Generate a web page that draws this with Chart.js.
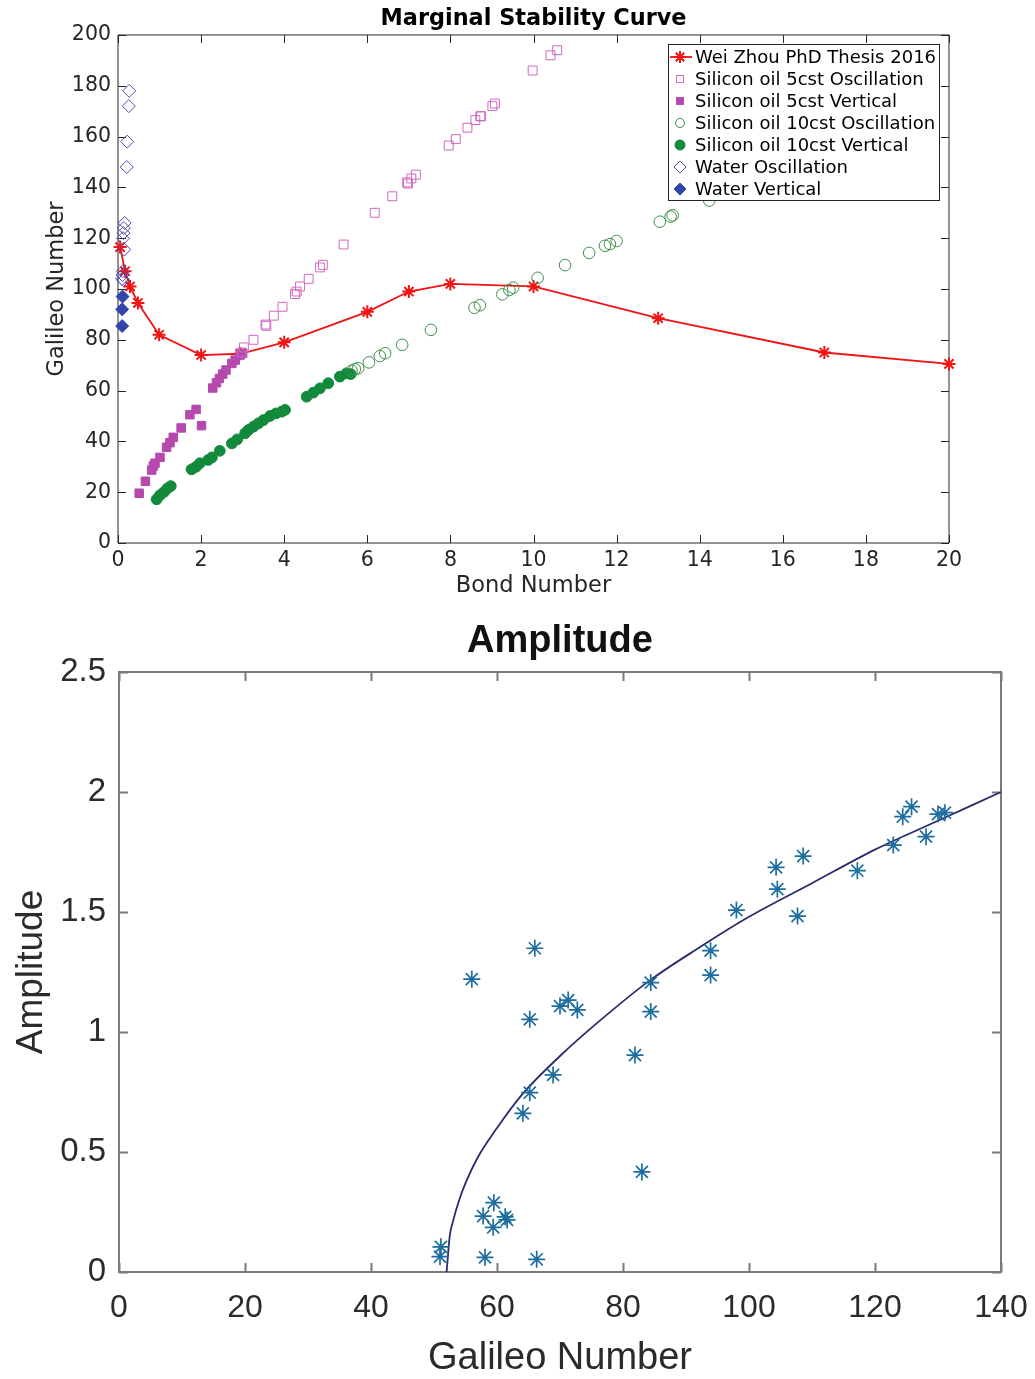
<!DOCTYPE html>
<html>
<head>
<meta charset="utf-8">
<script src="https://cdn.jsdelivr.net/npm/chart.js@4.4.1/dist/chart.umd.min.js"></script>
<style>
  body { margin: 0; background: #fff; }
  .wrap { position: absolute; left: 0; width: 1035px; }
</style>
</head>
<body>
<div class="wrap" style="top:0;height:600px"><canvas id="stability" width="1035" height="600"></canvas></div>
<div class="wrap" style="top:600px;height:779px"><canvas id="amplitude" width="1035" height="779"></canvas></div>
<script>
// --- Marginal stability curve (Bond number vs Galileo number) ---
const zhouBond = [0.05, 0.17, 0.29, 0.48, 0.99, 2, 2.94, 4, 6, 7, 8, 10, 13, 17, 20];
const zhouGa   = [116.5, 107, 101, 94.5, 82, 74, 74.5, 79, 91, 99, 102, 101, 88.5, 75, 70.5];

const si5OscBond = [2.98, 3.03, 3.26, 3.55, 3.57, 3.75, 3.96, 4.26, 4.3, 4.38, 4.59, 4.86, 4.93, 5.43, 6.18, 6.6, 6.96, 6.98, 7.06, 7.17, 7.96, 8.13, 8.41, 8.6, 8.72, 8.74, 9.01, 9.07, 9.98, 10.41, 10.57];
const si5OscGa   = [75, 77, 80, 86, 85.5, 89.5, 93, 98, 99, 101, 104, 108.5, 109.5, 117.5, 130, 136.5, 142, 141.5, 143.5, 145, 156.5, 159, 163.5, 166.5, 168, 168, 172, 173, 186, 192, 194];

const si5VertBond = [0.51, 0.66, 0.81, 0.85, 0.89, 1.01, 1.17, 1.25, 1.33, 1.52, 1.73, 1.88, 2.01, 2.28, 2.37, 2.44, 2.52, 2.6, 2.74, 2.82, 2.94, 3.0];
const si5VertGa   = [19.6, 24.3, 28.7, 30.3, 31.4, 33.7, 37.7, 39.5, 41.6, 45.3, 50.5, 52.6, 46.2, 61, 63.1, 64.8, 66.5, 68.1, 70.7, 72, 74, 74.7];

const si10OscBond = [5.62, 5.7, 5.78, 6.04, 6.3, 6.43, 6.84, 7.53, 8.58, 8.71, 9.25, 9.42, 9.51, 10.1, 10.76, 11.34, 11.72, 11.84, 12.0, 13.04, 13.3, 13.35, 14.23];
const si10OscGa   = [67.8, 68.4, 68.8, 71.1, 73.6, 74.7, 78, 83.9, 92.6, 93.6, 97.9, 99.6, 100.5, 104.4, 109.4, 114.2, 117, 117.7, 118.9, 126.5, 128.5, 129, 134.8];

const si10VertBond = [0.93, 1.01, 1.11, 1.19, 1.27, 1.77, 1.88, 1.97, 2.17, 2.26, 2.45, 2.74, 2.87, 3.06, 3.14, 3.26, 3.38, 3.5, 3.66, 3.8, 3.94, 4.02, 4.54, 4.7, 4.86, 5.06, 5.34, 5.5, 5.6];
const si10VertGa   = [17.2, 18.8, 20.1, 21.5, 22.4, 29, 30, 31.4, 32.7, 33.7, 36.3, 39.2, 40.8, 43.2, 44.5, 45.8, 47.1, 48.4, 50, 51, 51.7, 52.4, 57.6, 59.2, 60.9, 62.9, 65.5, 66.8, 66.5];

const waterOscBond = [0.27, 0.26, 0.22, 0.21, 0.16, 0.14, 0.13, 0.12, 0.15, 0.12, 0.11, 0.1, 0.13];
const waterOscGa   = [178, 172, 158, 148, 126, 124, 122, 120, 115.5, 107, 105.5, 104, 103.5];

const waterVertBond = [0.11, 0.1, 0.1];
const waterVertGa   = [97, 92, 85.4];

const bondTicks = [0, 2, 4, 6, 8, 10, 12, 14, 16, 18, 20];
const gaTicks   = [0, 20, 40, 60, 80, 100, 120, 140, 160, 180, 200];

// --- Amplitude vs Galileo number ---
const ampGa  = [51.1, 50.95, 58.1, 66.3, 59.5, 57.8, 59.4, 61.3, 61.6, 64.1, 65.2, 68.9, 81.9, 83.0, 65.2, 70.0, 71.3, 72.75, 66.0, 56.0, 84.4, 84.4, 93.9, 93.9, 98.0, 104.3, 104.5, 107.7, 108.6, 117.2, 122.9, 124.4, 125.8, 128.1, 130.0, 131.1];
const ampVal = [0.105, 0.064, 0.061, 0.053, 0.289, 0.233, 0.186, 0.23, 0.217, 0.661, 0.747, 0.821, 0.904, 0.417, 1.053, 1.108, 1.133, 1.092, 1.349, 1.22, 1.206, 1.085, 1.339, 1.237, 1.508, 1.686, 1.595, 1.483, 1.733, 1.672, 1.779, 1.897, 1.939, 1.814, 1.908, 1.914];

const fitGa  = [52, 52.5, 53, 54, 55, 57, 60, 64, 70, 76, 84, 92, 100, 110, 120, 130, 140];
const fitAmp = [0, 0.15, 0.21, 0.30, 0.37, 0.48, 0.60, 0.74, 0.90, 1.04, 1.21, 1.35, 1.48, 1.62, 1.76, 1.88, 2.0];

const ampGaTicks  = [0, 20, 40, 60, 80, 100, 120, 140];
const ampValTicks = [0, 0.5, 1, 1.5, 2, 2.5];

const toXY = (xs, ys) => xs.map((x, i) => ({ x: x, y: ys[i] }));

// box round the plot with inward ticks on all four sides, like matlab axes
const axesBox = {
  id: 'axesBox',
  beforeDatasetsDraw(chart, args, opts) {
    const { ctx, chartArea: a, scales } = chart;
    ctx.save();
    ctx.strokeStyle = opts.color;
    ctx.lineWidth = opts.width;
    ctx.beginPath();
    ctx.rect(a.left, a.top, a.right - a.left, a.bottom - a.top);
    scales.x.ticks.forEach(t => {
      const px = Math.round(scales.x.getPixelForValue(t.value)) + 0.5;
      ctx.moveTo(px, a.bottom); ctx.lineTo(px, a.bottom - opts.len);
      ctx.moveTo(px, a.top); ctx.lineTo(px, a.top + opts.len);
    });
    scales.y.ticks.forEach(t => {
      const py = Math.round(scales.y.getPixelForValue(t.value)) + 0.5;
      ctx.moveTo(a.left, py); ctx.lineTo(a.left + opts.len, py);
      ctx.moveTo(a.right, py); ctx.lineTo(a.right - opts.len, py);
    });
    ctx.stroke();
    ctx.restore();
  }
};

// legend in a box at the top right of the plot
const boxLegend = {
  id: 'boxLegend',
  afterDraw(chart, args, opts) {
    if (!opts.display) return;
    const { ctx } = chart;
    const sets = chart.data.datasets;
    ctx.save();
    ctx.fillStyle = '#fff';
    ctx.strokeStyle = '#262626';
    ctx.lineWidth = 1;
    ctx.fillRect(opts.left, opts.top, opts.width, opts.height);
    ctx.strokeRect(opts.left + 0.5, opts.top + 0.5, opts.width, opts.height);
    ctx.font = opts.font;
    ctx.textBaseline = 'middle';
    sets.forEach((ds, i) => {
      const y = opts.top + opts.first + i * opts.step;
      const mx = opts.left + 12;
      if (ds.showLine) {
        ctx.strokeStyle = ds.borderColor;
        ctx.lineWidth = ds.borderWidth;
        ctx.beginPath();
        ctx.moveTo(opts.left + 2, y); ctx.lineTo(opts.left + 24, y);
        ctx.stroke();
      }
      ctx.fillStyle = ds.pointBackgroundColor;
      ctx.strokeStyle = ds.pointBorderColor;
      ctx.lineWidth = ds.pointBorderWidth;
      Chart.helpers.drawPoint(ctx, {
        pointStyle: ds.pointStyle,
        radius: ds.legendRadius,
        rotation: 0,
        borderWidth: ds.pointBorderWidth
      }, mx, y);
      ctx.fillStyle = '#000';
      ctx.fillText(ds.label, opts.left + 27, y + 1);
    });
    ctx.restore();
  }
};

function marker(label, xs, ys, style, stroke, fill, radius, legendRadius, extra) {
  return Object.assign({
    label: label,
    data: toXY(xs, ys),
    pointStyle: style,
    pointRadius: radius,
    pointHoverRadius: radius,
    pointBorderColor: stroke,
    pointBackgroundColor: fill,
    pointBorderWidth: 1,
    legendRadius: legendRadius,
    showLine: false,
    clip: false,
    order: 0
  }, extra || {});
}

const dejavu = 'DejaVu Sans';

new Chart(document.getElementById('stability'), {
  type: 'scatter',
  data: {
    datasets: [
      marker('Wei Zhou PhD Thesis 2016', zhouBond, zhouGa, 'star', '#f01414', '#f01414', 6.5, 6,
        { showLine: true, borderColor: '#f01414', borderWidth: 1.8, pointBorderWidth: 2, tension: 0, order: 5 }),
      marker('Silicon oil 5cst Oscillation', si5OscBond, si5OscGa, 'rect', '#d068c2', 'rgba(0,0,0,0)', 6.3, 5),
      marker('Silicon oil 5cst Vertical', si5VertBond, si5VertGa, 'rect', '#b549ad', '#b549ad', 6, 5),
      marker('Silicon oil 10cst Oscillation', si10OscBond, si10OscGa, 'circle', '#3f8f4a', 'rgba(0,0,0,0)', 5.8, 4.5),
      marker('Silicon oil 10cst Vertical', si10VertBond, si10VertGa, 'circle', '#128a3b', '#128a3b', 5.4, 5),
      marker('Water Oscillation', waterOscBond, waterOscGa, 'rectRot', '#4d4db5', 'rgba(0,0,0,0)', 6.5, 6),
      marker('Water Vertical', waterVertBond, waterVertGa, 'rectRot', '#3445aa', '#3445aa', 6.5, 6)
    ]
  },
  options: {
    responsive: false,
    animation: false,
    layout: { padding: { left: 0, right: 86, top: 0, bottom: 0 } },
    scales: {
      x: {
        type: 'linear', min: 0, max: 20,
        afterBuildTicks: s => { s.ticks = bondTicks.map(v => ({ value: v })); },
        afterFit: s => { s.height = 57; s.paddingLeft = 0; s.paddingRight = 0; },
        grid: { display: false, drawTicks: false },
        border: { display: false },
        ticks: { font: { family: dejavu, size: 20.5 }, color: '#262626', padding: 5 },
        title: { display: true, text: 'Bond Number', color: '#262626', font: { family: dejavu, size: 22.5 }, padding: { top: 0, bottom: 0 } }
      },
      y: {
        type: 'linear', min: 0, max: 200,
        afterBuildTicks: s => { s.ticks = gaTicks.map(v => ({ value: v })); },
        afterFit: s => { s.width = 118; },
        grid: { display: false, drawTicks: false },
        border: { display: false },
        ticks: { font: { family: dejavu, size: 20.5 }, color: '#262626', padding: 7 },
        title: { display: true, text: 'Galileo Number', color: '#262626', font: { family: dejavu, size: 22.5 }, padding: { top: 43.5, bottom: 0 } }
      }
    },
    plugins: {
      legend: { display: false },
      tooltip: { enabled: false },
      title: {
        display: true, text: 'Marginal Stability Curve', color: '#000', fullSize: false,
        font: { family: dejavu, size: 22.4, weight: 'bold' },
        padding: { top: 5.5, bottom: 2.6 }
      },
      axesBox: { color: '#262626', width: 1, len: 8 },
      boxLegend: { display: true, left: 668, top: 44, width: 271, height: 156, first: 13, step: 22, font: '18px "DejaVu Sans"' }
    }
  },
  plugins: [axesBox, boxLegend]
});

const arial = 'Liberation Sans';

new Chart(document.getElementById('amplitude'), {
  type: 'scatter',
  data: {
    datasets: [
      {
        label: 'Amplitude',
        data: toXY(ampGa, ampVal),
        pointStyle: 'star',
        pointRadius: 8.5,
        pointHoverRadius: 8.5,
        pointBorderColor: '#1d6e9e',
        pointBorderWidth: 1.7,
        showLine: false,
        clip: false,
        order: 0
      },
      {
        label: 'Fit',
        data: toXY(fitGa, fitAmp),
        showLine: true,
        borderColor: '#2d2a6c',
        borderWidth: 1.8,
        pointRadius: 0,
        cubicInterpolationMode: 'monotone',
        clip: false,
        order: 1
      }
    ]
  },
  options: {
    responsive: false,
    animation: false,
    layout: { padding: { left: 0, right: 34, top: 0, bottom: 0 } },
    scales: {
      x: {
        type: 'linear', min: 0, max: 140,
        afterBuildTicks: s => { s.ticks = ampGaTicks.map(v => ({ value: v })); },
        afterFit: s => { s.height = 107; s.paddingLeft = 0; s.paddingRight = 0; },
        grid: { display: false, drawTicks: false },
        border: { display: false },
        ticks: { font: { family: arial, size: 32 }, color: '#2b2b2b', padding: 17 },
        title: { display: true, text: 'Galileo Number', color: '#2b2b2b', font: { family: arial, size: 38, lineHeight: 1.1 }, padding: { top: 0, bottom: 0 } }
      },
      y: {
        type: 'linear', min: 0, max: 2.5,
        afterBuildTicks: s => { s.ticks = ampValTicks.map(v => ({ value: v })); },
        afterFit: s => { s.width = 119; },
        grid: { display: false, drawTicks: false },
        border: { display: false },
        ticks: { font: { family: arial, size: 33 }, color: '#2b2b2b', padding: 13, callback: v => String(v) },
        title: { display: true, text: 'Amplitude', color: '#2b2b2b', font: { family: arial, size: 37 }, padding: { top: 10, bottom: 0 } }
      }
    },
    plugins: {
      legend: { display: false },
      tooltip: { enabled: false },
      title: {
        display: true, text: 'Amplitude', color: '#111', fullSize: false,
        font: { family: arial, size: 38, weight: 'bold' },
        padding: { top: 18.5, bottom: 7.9 }
      },
      axesBox: { color: '#7a7a7a', width: 2, len: 9 },
      boxLegend: { display: false }
    }
  },
  plugins: [axesBox, boxLegend]
});
</script>
</body>
</html>
